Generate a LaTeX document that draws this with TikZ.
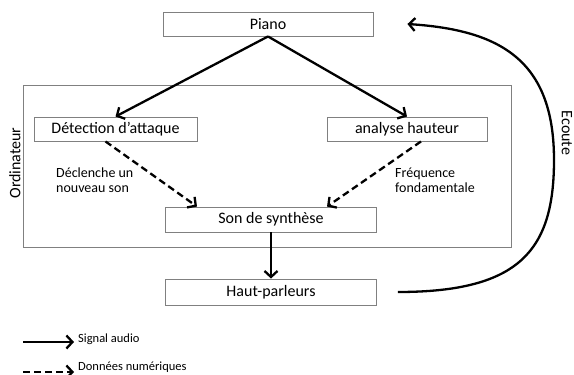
\documentclass[tikz,border=0pt]{standalone}
\usepackage{fontspec}
\setmainfont{Carlito}
\usetikzlibrary{arrows.meta,calc}
\begin{document}
\begin{tikzpicture}[x=1pt,y=-1pt,
  box/.style={draw=black!50, line width=0.9pt, inner sep=0pt, font=\fontsize{16}{17}\selectfont},
  sig/.style={line width=2.3pt, -{Straight Barb[length=6pt,width=13pt,line width=2.3pt]}},
  dat/.style={sig, dash pattern=on 7pt off 4pt},
  lbl/.style={inner sep=0pt, align=left, font=\fontsize{14}{15}\selectfont},
  big/.style={inner sep=0pt, font=\fontsize{16}{17}\selectfont},
  leg/.style={inner sep=0pt, anchor=west, font=\fontsize{12.5}{14}\selectfont}]
\useasboundingbox (0,0) rectangle (574,375);
\node[box, minimum width=488pt, minimum height=162pt] (ordi) at (267,166) {};
\node[box, minimum width=210pt, minimum height=24pt] (piano) at (268,24) {Piano};
\node[box, minimum width=163pt, minimum height=24pt] (det) at (115.5,129) {Détection d’attaque};
\node[box, minimum width=160pt, minimum height=24pt] (ana) at (407,129) {analyse hauteur};
\node[box, minimum width=211pt, minimum height=25pt] (son) at (271,219.5) {Son de synthèse};
\node[box, minimum width=211pt, minimum height=26pt] (haut) at (271,292) {Haut-parleurs};
\node[big, rotate=90] (ordlbl) at (15,163) {Ordinateur};
\node[big, rotate=-90] (ecoute) at (567,133) {Ecoute};
\node[lbl, anchor=west] (decl) at (56,180.5) {Déclenche un\\nouveau son};
\node[lbl, anchor=west] (freq) at (395,180.5) {Fréquence\\fondamentale};
\draw[sig] (piano.south) -- (det.north);
\draw[sig] (piano.south) -- (ana.north);
\draw[dat] ([xshift=-10pt]det.south) -- ([xshift=-74pt]son.north);
\draw[dat] ([xshift=14pt]ana.south) -- ([xshift=56pt]son.north);
\draw[sig] (son.south) -- (haut.north);
\coordinate (cs) at ([xshift=21pt]haut.east);
\coordinate (ce) at ([xshift=34pt]piano.east);
\draw[sig] (cs) .. controls (520,292) and (554,250) .. (554,160) .. controls (554,60) and (500,30) .. (ce);
\coordinate (l1a) at (23,342);
\coordinate (l1b) at (74,342);
\coordinate (l2a) at (23,372);
\coordinate (l2b) at (74,372);
\draw[sig] (l1a) -- (l1b);
\draw[dat] (l2a) -- (l2b);
\node[leg] (sa) at (78,339) {Signal audio};
\node[leg] (dn) at (78,367) {Données numériques};
\end{tikzpicture}
\end{document}
